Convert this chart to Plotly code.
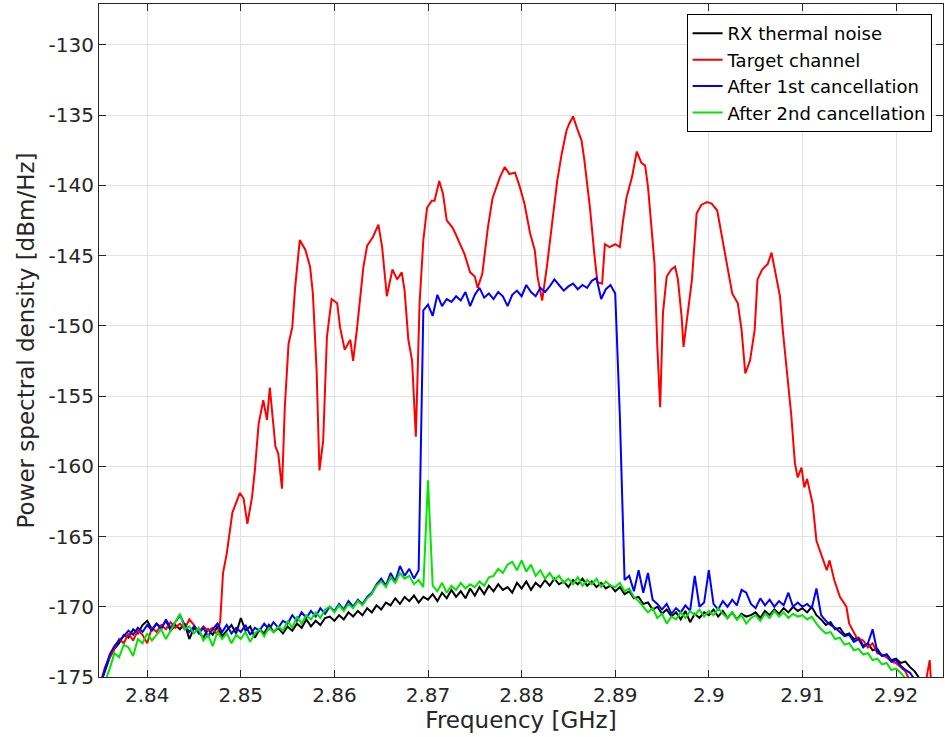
import numpy as np
import plotly.graph_objects as go

# Common frequency grid for noise-floor traces (GHz)
freq = np.round(np.arange(0, 177) * 0.0005 + 2.835, 4)

black = [
    -175.5, -174.6, -173.6, -173.0, -172.6, -172.0, -172.2, -171.6, -171.9, -171.3,
    -171.0, -171.6, -171.2, -171.5, -171.0, -171.7, -171.3, -171.6, -171.2, -172.3,
    -171.5, -171.8, -172.2, -171.6, -172.0, -171.4, -172.1, -171.7, -171.3, -171.9,
    -170.8, -171.7, -171.4, -172.2, -171.6, -171.9, -171.3, -171.8, -171.5, -171.9,
    -171.4, -171.7, -171.2, -171.5, -170.9, -171.4, -171.0, -171.3, -170.8, -170.7,
    -171.0, -170.6, -170.9, -170.4, -170.7, -170.3, -170.6, -170.1, -170.4, -169.9,
    -170.2, -169.7, -169.9, -169.4, -169.8, -169.3, -169.6, -169.2, -169.7, -169.3,
    -169.5, -169.1, -169.6, -169.0, -169.4, -168.8, -169.3, -168.9, -169.4, -168.7,
    -169.2, -168.6, -169.1, -168.5, -168.9, -168.4, -168.8, -168.6, -169.0, -168.3,
    -168.7, -168.2, -168.8, -168.3, -168.6, -168.1, -168.5, -168.0, -168.4, -168.2,
    -168.6, -168.1, -168.4, -168.0, -168.5, -168.2, -168.6, -168.3, -168.7, -168.5,
    -168.9, -168.6, -169.1, -168.9, -169.4, -169.3, -169.8, -169.7, -170.2, -170.0,
    -170.5, -170.2, -170.7, -170.4, -170.9, -170.3, -171.1, -170.5, -170.8, -170.4,
    -170.6, -170.2, -170.7, -170.3, -170.8, -170.4, -170.9, -170.5, -170.7, -170.6,
    -170.4, -170.8, -170.3, -170.6, -170.2, -170.5, -170.1, -170.4, -170.0, -170.3,
    -170.1, -170.4, -170.0, -170.6, -170.9, -171.3, -171.1, -171.6, -171.5, -172.0,
    -171.9, -172.3, -172.2, -172.8, -172.6, -173.1, -173.0, -173.5, -173.4, -173.8,
    -173.7, -174.0, -173.9, -174.3, -174.6, -175.1, -175.8,
]

green = [
    -175.8, -175.3, -174.4, -173.3, -173.6, -172.7, -172.9, -173.5, -172.3, -172.6,
    -171.9, -172.4, -172.0, -171.6, -172.3, -171.7, -171.2, -170.5, -171.6, -171.4,
    -171.9, -171.5, -172.4, -172.0, -172.8, -171.8, -172.3, -171.9, -172.6, -172.0,
    -172.3, -171.8, -172.5, -171.9, -171.6, -172.1, -171.5, -171.8, -171.4, -171.7,
    -171.0, -171.5, -170.7, -171.2, -170.6, -170.9, -170.4, -170.8, -170.2, -170.0,
    -170.4, -169.9, -170.3, -169.8, -170.1, -169.6, -169.9, -169.4, -169.1, -168.5,
    -168.2, -168.6, -167.9, -168.3, -167.6, -168.0, -167.8, -168.4, -168.1, -168.6,
    -161.0, -168.5, -168.9, -168.3, -169.0, -168.5, -168.8, -168.3, -168.7, -168.4,
    -168.6, -168.2, -168.5, -167.9, -167.8, -167.3, -167.6, -167.0, -166.8, -167.4,
    -166.7, -167.5, -167.0, -167.8, -167.4, -168.0, -167.6, -168.1, -167.8, -168.3,
    -168.0, -168.4, -167.9, -168.5, -168.1, -168.4, -168.0, -168.6, -168.2, -168.5,
    -168.6, -168.3, -168.9, -168.7, -169.3, -169.6, -170.0, -170.4, -170.1, -170.8,
    -170.5, -171.2, -170.7, -170.9, -170.4, -170.8, -170.3, -170.6, -170.2, -170.7,
    -170.3, -170.6, -170.1, -170.5, -170.8, -170.4, -170.9, -170.6, -171.2, -170.8,
    -170.6, -171.0, -170.5, -170.8, -170.3, -170.7, -170.4, -170.8, -170.5, -170.7,
    -170.6, -170.9, -170.7, -171.2, -171.6, -171.9, -171.8, -172.3, -172.2, -172.7,
    -172.6, -173.1, -173.0, -173.4, -173.3, -173.8, -173.7, -174.1, -174.0, -174.5,
    -174.4, -174.7, -175.1, None, None, None, None,
]

blue = [
    -175.6, -174.4, -173.4, -172.8, -172.4, -172.1, -171.7, -172.0, -171.5, -171.8,
    -171.3, -171.7, -171.2, -171.6, -170.9, -171.5, -171.1, -170.6, -171.3, -171.8,
    -171.4, -171.9, -171.5, -172.1, -171.6, -171.2, -171.8, -171.3, -171.9, -171.5,
    -171.8, -171.3, -172.0, -171.5, -171.7, -171.2, -171.6, -171.1, -171.5, -171.0,
    -171.2, -170.6, -171.0, -170.4, -170.8, -170.3, -170.7, -170.1, -170.5, -170.0,
    -170.3, -169.8, -170.2, -169.6, -170.0, -169.5, -169.8, -169.3, -169.0, -168.4,
    -168.0, -168.5, -167.6, -168.2, -167.1, -167.8, -167.3, -168.0, -167.4, -148.9,
    -148.5, -149.3, -147.8, -148.6, -148.1, -148.3, -147.9, -148.2, -147.6, -148.6,
    -147.8, -147.3, -148.0, -147.7, -148.1, -147.6, -147.9, -148.6, -147.8, -147.5,
    -147.9, -147.1, -147.6, -147.9, -147.3, -147.6, -147.2, -146.7, -147.1, -147.5,
    -147.2, -147.0, -147.4, -147.1, -147.3, -146.8, -146.6, -148.1, -147.4, -147.1,
    -147.7, -156.5, -168.1, -167.8, -168.9, -167.4, -169.0, -167.6, -169.5, -169.8,
    -170.2, -169.8, -170.5, -170.1, -170.4, -169.9, -170.3, -167.8, -170.0, -169.7,
    -167.4, -169.8, -170.2, -169.6, -170.0, -169.5, -169.9, -168.8, -169.0, -169.8,
    -170.1, -169.4, -169.9, -169.5, -170.0, -169.6, -169.9, -169.0, -170.0, -169.7,
    -170.0, -169.8, -170.1, -168.7, -170.6, -171.0, -171.3, -171.5, -171.8, -172.1,
    -172.0, -172.5, -172.3, -172.9, -172.6, -171.6, -173.2, -173.5, -173.4, -173.9,
    -173.8, -174.2, -174.5, -174.7, -175.2, None, None,
]

# Target channel (own frequency samples, GHz)
red_freq = [
    2.8350, 2.8355, 2.8360, 2.8365, 2.8370, 2.8375, 2.8380, 2.8385, 2.8390, 2.8395,
    2.8400, 2.8405, 2.8410, 2.8415, 2.8420, 2.8425, 2.8430, 2.8435, 2.8440, 2.8445,
    2.8450, 2.8455, 2.8460, 2.8465, 2.8470, 2.8475,
    2.8478, 2.8481, 2.8485, 2.8491, 2.8496, 2.8499, 2.8503, 2.8507, 2.8512, 2.8515,
    2.8519, 2.8524, 2.8528, 2.8531, 2.8537, 2.8540, 2.8544, 2.8547, 2.8551, 2.8555,
    2.8558, 2.8563, 2.8569, 2.8574, 2.8577, 2.8581, 2.8584, 2.8588, 2.8592, 2.8597,
    2.8603, 2.8606, 2.8611, 2.8617, 2.8620, 2.8624, 2.8631, 2.8635, 2.8641, 2.8647,
    2.8651, 2.8656, 2.8662, 2.8667, 2.8672, 2.8675, 2.8679, 2.8683, 2.8687, 2.8691,
    2.8695, 2.8699, 2.8704, 2.8707, 2.8712, 2.8716, 2.8720, 2.8726, 2.8729, 2.8734,
    2.8739, 2.8745, 2.8750, 2.8753, 2.8758, 2.8764, 2.8769, 2.8777, 2.8782, 2.8787,
    2.8793, 2.8798, 2.8803, 2.8809, 2.8814, 2.8817, 2.8822, 2.8827, 2.8832, 2.8838,
    2.8843, 2.8848, 2.8851, 2.8855, 2.8860, 2.8864, 2.8867, 2.8873, 2.8878, 2.8881,
    2.8886, 2.8889, 2.8894, 2.8900, 2.8905, 2.8908, 2.8912, 2.8918, 2.8923, 2.8928,
    2.8932, 2.8935, 2.8939, 2.8942, 2.8945, 2.8948, 2.8951, 2.8955, 2.8960, 2.8964,
    2.8967, 2.8971, 2.8973, 2.8977, 2.8982, 2.8987, 2.8992, 2.8998, 2.9003, 2.9009,
    2.9014, 2.9020, 2.9025, 2.9031, 2.9035, 2.9039, 2.9044, 2.9049, 2.9052, 2.9057,
    2.9063, 2.9067, 2.9072, 2.9076, 2.9079, 2.9084, 2.9088, 2.9092, 2.9095, 2.9099,
    2.9102, 2.9105, 2.9111, 2.9115, 2.9120, 2.9126, 2.9129, 2.9134, 2.9140, 2.9147,
    2.9150, 2.9158, 2.9165, 2.9170, 2.9175, 2.9180, 2.9185, 2.9190, 2.9195, 2.9200,
    2.9205, 2.9210, 2.9215, 2.9230, 2.9236, 2.9238,
]
red = [
    -175.4, -174.3, -173.6, -172.9, -172.3, -172.6, -171.9, -172.4, -171.7, -172.0,
    -172.6, -171.5, -171.8, -171.3, -171.6, -171.1, -171.5, -171.2, -171.6, -170.9,
    -171.3, -171.8, -171.4, -171.7, -171.5, -172.0,
    -171.0, -167.6, -166.2, -163.3, -162.4, -161.9, -162.3, -164.1, -162.2, -160.3,
    -157.0, -155.3, -156.7, -154.4, -158.6, -159.1, -161.6, -155.8, -151.3, -150.1,
    -147.3, -143.9, -144.6, -145.8, -147.7, -153.2, -160.3, -158.2, -150.8, -148.1,
    -148.4, -150.1, -151.7, -151.0, -152.5, -150.3, -145.8, -144.3, -143.7, -142.8,
    -144.4, -147.9, -146.0, -146.7, -146.2, -147.5, -151.0, -152.5, -157.9, -148.4,
    -143.9, -141.6, -141.1, -141.1, -139.7, -140.6, -142.5, -143.0, -143.4, -144.2,
    -144.9, -146.2, -146.5, -147.3, -146.3, -143.0, -140.9, -139.4, -138.7, -139.2,
    -139.1, -140.1, -141.3, -143.4, -144.6, -146.5, -148.2, -145.8, -143.0, -139.7,
    -137.7, -136.1, -135.6, -135.1, -136.1, -136.8, -138.2, -141.6, -145.1, -146.9,
    -147.0, -144.2, -144.4, -144.2, -144.4, -142.7, -140.9, -139.4, -137.6, -138.4,
    -138.6, -140.1, -143.2, -145.6, -151.5, -155.8, -149.1, -146.5, -146.0, -145.8,
    -146.7, -149.4, -151.5, -149.4, -146.7, -142.0, -141.4, -141.2, -141.3, -141.8,
    -143.7, -145.8, -147.7, -148.4, -150.3, -153.4, -152.5, -150.3, -146.7, -146.0,
    -145.6, -144.8, -146.5, -147.9, -150.3, -153.7, -156.3, -159.8, -160.8, -160.1,
    -161.5, -160.9, -162.7, -165.3, -166.2, -167.4, -166.7, -168.1, -169.3, -170.0,
    -171.2, -172.2, -172.4, -172.9, -172.6, -173.3, -173.4, -173.6, -173.9, -174.0,
    -174.3, -174.6, -175.3, -176.0, -173.8, -176.0,
]

x_ticks = [2.84, 2.85, 2.86, 2.87, 2.88, 2.89, 2.90, 2.91, 2.92]
x_tick_labels = ["2.84", "2.85", "2.86", "2.87", "2.88", "2.89", "2.9", "2.91", "2.92"]
y_ticks = [-175, -170, -165, -160, -155, -150, -145, -140, -135, -130]
y_tick_labels = ["-175", "-170", "-165", "-160", "-155", "-150", "-145", "-140", "-135", "-130"]

series = [
    ("RX thermal noise", list(freq), black, "#000000"),
    ("Target channel", red_freq, red, "#ff0000"),
    ("After 1st cancellation", list(freq), blue, "#0000ff"),
    ("After 2nd cancellation", list(freq), green, "#00e600"),
]

fig = go.Figure()
for name, xs, ys, col in series:
    fig.add_trace(go.Scatter(x=xs, y=ys, mode="lines", name=name,
                             line=dict(color=col, width=2), connectgaps=False))

axis_col = "#262626"
font = "DejaVu Sans"
fig.update_layout(
    width=945, height=737,
    margin=dict(l=99, r=2, t=4, b=60, autoexpand=False),
    paper_bgcolor="white", plot_bgcolor="white",
    font=dict(family=font, size=20, color=axis_col),
    showlegend=True,
    legend=dict(x=0.9865, y=0.985, xanchor="right", yanchor="top",
                bgcolor="white", bordercolor="#000000", borderwidth=1,
                font=dict(family=font, size=18, color="#000000"),
                tracegroupgap=0),
)
fig.update_xaxes(
    range=[2.83485, 2.92502], tickvals=x_ticks, ticktext=x_tick_labels,
    showgrid=True, gridcolor="#e2e2e2", gridwidth=1, zeroline=False,
    showline=True, linecolor=axis_col, linewidth=1, mirror="allticks",
    ticks="inside", ticklen=7, tickcolor=axis_col,
    tickfont=dict(family=font, size=20, color=axis_col),
    title=dict(text="Frequency [GHz]", font=dict(family=font, size=23, color=axis_col), standoff=5),
)
fig.update_yaxes(
    range=[-175, -127.1], tickvals=y_ticks, ticktext=y_tick_labels,
    showgrid=True, gridcolor="#e2e2e2", gridwidth=1, zeroline=False,
    showline=True, linecolor=axis_col, linewidth=1, mirror="allticks",
    ticks="inside", ticklen=7, tickcolor=axis_col,
    tickfont=dict(family=font, size=20, color=axis_col),
    title=dict(text="Power spectral density [dBm/Hz]", font=dict(family=font, size=23, color=axis_col), standoff=7),
)

fig.write_html("out.html", config={"displayModeBar": False},
               post_script="document.body.style.margin='0px';document.body.style.overflow='hidden';")
